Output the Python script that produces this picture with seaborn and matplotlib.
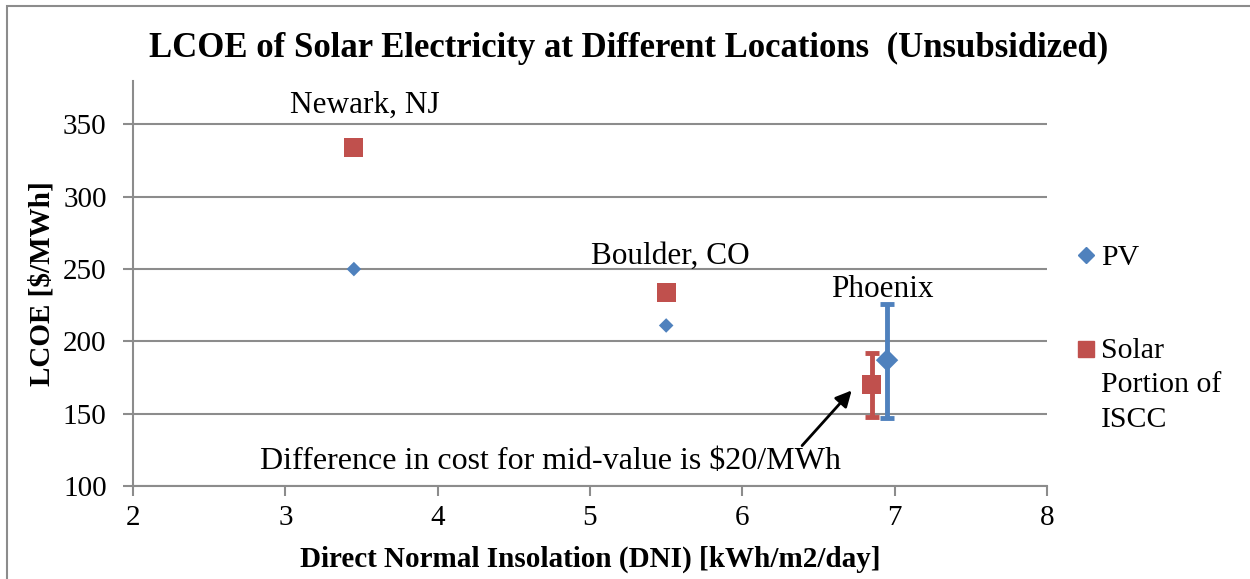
import pandas as pd
import matplotlib.pyplot as plt
import matplotlib.patches as mpatches
from matplotlib.lines import Line2D
import seaborn as sns

# Data
locations = ['Newark, NJ', 'Boulder, CO', 'Phoenix']
dni_pv = [3.45, 5.5, 6.95]
dni_iscc = [3.45, 5.5, 6.85]
lcoe_pv = [250, 211, 187]
lcoe_iscc = [334, 234, 170]

# Phoenix range (low / high)
pv_range = [147, 226]
iscc_range = [148, 192]

series_names = ['PV', 'Solar\nPortion of\nISCC']
colors = ['#4F81BD', '#C0504D']

df = pd.DataFrame({
    'dni': dni_pv + dni_iscc,
    'lcoe': lcoe_pv + lcoe_iscc,
    'tech': [series_names[0]] * 3 + [series_names[1]] * 3,
})

sns.set_theme(style='white')
plt.rcParams['font.family'] = ['Liberation Serif', 'DejaVu Serif']
plt.rcParams['text.color'] = 'black'
plt.rcParams['axes.labelcolor'] = 'black'

fig = plt.figure(figsize=(12.5, 5.79), dpi=100)
ax = fig.add_axes([0.1064, 0.1606, 0.7312, 0.6994])

sns.scatterplot(data=df[df['tech'] == series_names[0]], x='dni', y='lcoe', color=colors[0],
                marker='D', s=55, edgecolor='none', ax=ax, zorder=4)
sns.scatterplot(data=df[df['tech'] == series_names[1]], x='dni', y='lcoe', color=colors[1],
                marker='s', s=190, edgecolor='none', ax=ax, zorder=4)

# Phoenix error bars
ax.errorbar([dni_iscc[2]], [lcoe_iscc[2]],
            yerr=[[lcoe_iscc[2] - iscc_range[0]], [iscc_range[1] - lcoe_iscc[2]]],
            fmt='none', ecolor=colors[1], elinewidth=3.5, capsize=5, capthick=3.5, zorder=3)
ax.errorbar([dni_pv[2]], [lcoe_pv[2]],
            yerr=[[lcoe_pv[2] - pv_range[0]], [pv_range[1] - lcoe_pv[2]]],
            fmt='none', ecolor=colors[0], elinewidth=3.5, capsize=5, capthick=3.5, zorder=3)
ax.scatter([dni_pv[2]], [lcoe_pv[2]], marker='D', s=130, color=colors[0], edgecolor='none', zorder=5)

ax.set_xlim(2, 8)
ax.set_ylim(100, 380)
ax.set_xticks(range(2, 9))
ax.set_yticks(range(100, 351, 50))
ax.yaxis.grid(True, color='#8c8c8c', linewidth=1.5)
ax.xaxis.grid(False)
ax.set_axisbelow(True)
for side in ['top', 'right']:
    ax.spines[side].set_visible(False)
for side in ['left', 'bottom']:
    ax.spines[side].set_color('#8c8c8c')
    ax.spines[side].set_linewidth(1.5)
ax.tick_params(axis='both', labelsize=21, labelcolor='black', length=7, width=1.5,
               color='#8c8c8c', direction='out', left=True, bottom=True)
ax.tick_params(axis='x', pad=7)
ax.tick_params(axis='y', pad=12)

ax.set_xlabel('Direct Normal Insolation (DNI) [kWh/m2/day]', fontsize=21, fontweight='bold', labelpad=10)
ax.set_ylabel('LCOE [$/MWh]', fontsize=21, fontweight='bold', labelpad=5)
fig.suptitle('LCOE of Solar Electricity at Different Locations  (Unsubsidized)',
             x=0.503, y=0.945, fontsize=25, fontweight='bold')

# Location labels
ax.text(3.52, 363, locations[0], fontsize=22.5, ha='center', va='center')
ax.text(5.53, 259, locations[1], fontsize=22.5, ha='center', va='center')
ax.text(6.92, 236, locations[2], fontsize=22.5, ha='center', va='center')

ax.text(4.74, 117, 'Difference in cost for mid-value is $20/MWh', fontsize=23, ha='center', va='center')
ax.annotate('', xy=(6.73, 167.5), xytext=(6.38, 126.5),
            arrowprops=dict(arrowstyle='-|>', color='black', lw=2, mutation_scale=24))

handles = [
    Line2D([], [], marker='D', color=colors[0], linestyle='none', markersize=8),
    Line2D([], [], marker='s', color=colors[1], linestyle='none', markersize=12),
]
leg = ax.legend(handles, series_names, loc='upper left', bbox_to_anchor=(1.015, 0.625),
                frameon=False, fontsize=21.5, handletextpad=0.05, handlelength=0.9,
                labelspacing=2.25, borderaxespad=0)
# keep the marker next to the first line of a multi-line label
for column in leg._legend_handle_box.get_children():
    for item in column.get_children():
        item.align = 'top'
for txt in leg.get_texts():
    txt.set_linespacing(1.42)

# Outer chart border
fig.patches.append(mpatches.Rectangle((7 / 1250, -0.1), 1.2, 1.1 - 5.5 / 579,
                                      transform=fig.transFigure, fill=False,
                                      edgecolor='#8c8c8c', linewidth=1.5))

fig.savefig('out.png', dpi=100)
